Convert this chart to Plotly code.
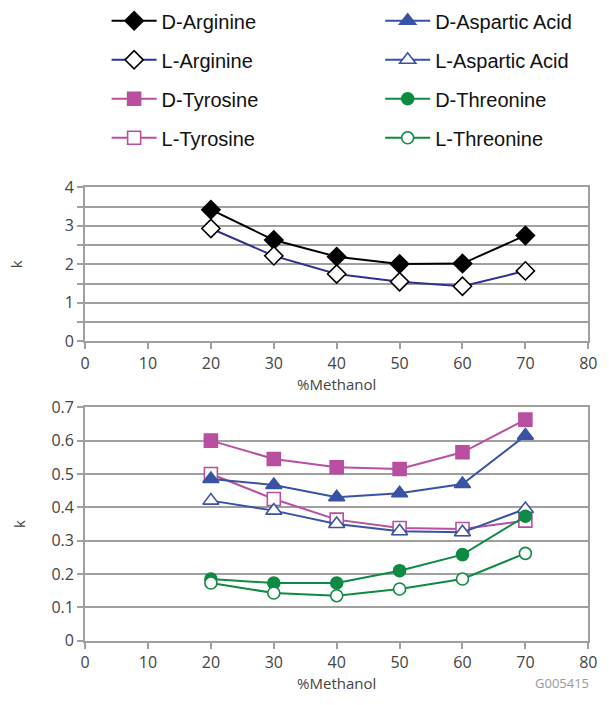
import plotly.graph_objects as go

methanol = [20, 30, 40, 50, 60, 70]

d_arginine = [3.42, 2.63, 2.20, 2.01, 2.02, 2.75]
l_arginine = [2.93, 2.22, 1.75, 1.55, 1.43, 1.83]

d_tyrosine = [0.600, 0.545, 0.520, 0.515, 0.565, 0.663]
l_tyrosine = [0.500, 0.425, 0.363, 0.338, 0.335, 0.360]
d_aspartic = [0.485, 0.467, 0.430, 0.442, 0.470, 0.615]
l_aspartic = [0.420, 0.390, 0.350, 0.328, 0.325, 0.395]
d_threonine = [0.185, 0.173, 0.173, 0.210, 0.258, 0.373]
l_threonine = [0.173, 0.143, 0.135, 0.155, 0.185, 0.262]

x_ticks = [0, 10, 20, 30, 40, 50, 60, 70, 80]
y2_tickvals = [0, 0.1, 0.2, 0.3, 0.4, 0.5, 0.6, 0.7]
y2_ticktext = ["0", "0.1", "0.2", "0.3", "0.4", "0.5", "0.6", "0.7"]

BLACK = "#000000"
NAVY = "#2e3192"
MAGENTA = "#b94fa0"
BLUE = "#3953a4"
GREEN = "#0f8a43"

fig = go.Figure()

def add(name, y, xa, ya, line_color, symbol, mcolor, mline, size, legend, group):
    fig.add_trace(go.Scatter(
        x=methanol, y=y, name=name, mode="lines+markers",
        xaxis=xa, yaxis=ya,
        line=dict(color=line_color, width=2),
        marker=dict(symbol=symbol, size=size, color=mcolor,
                    line=dict(color=mline, width=1.6)),
        legend=legend, legendgroup=group,
    ))

add("D-Arginine", d_arginine, "x", "y", BLACK, "diamond", BLACK, BLACK, 14, "legend", "a")
add("L-Arginine", l_arginine, "x", "y", NAVY, "diamond", "white", BLACK, 14, "legend", "b")
add("D-Tyrosine", d_tyrosine, "x2", "y2", MAGENTA, "square", MAGENTA, MAGENTA, 13, "legend", "c")
add("L-Tyrosine", l_tyrosine, "x2", "y2", MAGENTA, "square", "white", MAGENTA, 13, "legend", "d")
add("D-Aspartic Acid", d_aspartic, "x2", "y2", BLUE, "triangle-up", BLUE, BLUE, 14, "legend2", "e")
add("L-Aspartic Acid", l_aspartic, "x2", "y2", BLUE, "triangle-up", "white", BLUE, 14, "legend2", "f")
add("D-Threonine", d_threonine, "x2", "y2", GREEN, "circle", GREEN, GREEN, 12, "legend2", "g")
add("L-Threonine", l_threonine, "x2", "y2", GREEN, "circle", "white", GREEN, 12, "legend2", "h")

W, H = 609, 705
x0, x1 = 82 / W, 597 / W

GRID = "#a0a0a0"
tickfont = dict(family="Open Sans", size=16, color="#444444")
titlefont = dict(family="Open Sans", size=15, color="#444444")

xcommon = dict(range=[0, 80], tickvals=x_ticks, showgrid=False, showline=True,
               linecolor=GRID, linewidth=2, mirror=True, ticks="outside",
               ticklen=6, tickcolor=GRID, tickwidth=2, tickfont=tickfont,
               title=dict(text="%Methanol", font=titlefont, standoff=0),
               zeroline=False, domain=[x0, x1])

legfont = dict(family="Liberation Sans", size=20, color="#111111")

fig.update_layout(
    width=W, height=H,
    margin=dict(l=0, r=0, t=0, b=0),
    paper_bgcolor="white", plot_bgcolor="white",
    xaxis=dict(xcommon, anchor="y"),
    yaxis=dict(range=[0, 4], dtick=1, showgrid=True, gridcolor=GRID, gridwidth=2,
               minor=dict(dtick=0.5, showgrid=True, gridcolor=GRID, gridwidth=2,
                          ticks="outside", ticklen=6, tickcolor=GRID, tickwidth=2),
               showline=True, linecolor=GRID, linewidth=2, mirror=True,
               ticks="outside", ticklen=6, tickcolor=GRID, tickwidth=2,
               tickfont=tickfont, zeroline=False,
               title=dict(text="k", font=titlefont, standoff=38),
               domain=[(H - 341) / H, (H - 182) / H], anchor="x"),
    xaxis2=dict(xcommon, anchor="y2"),
    yaxis2=dict(range=[0, 0.7], tickvals=y2_tickvals, ticktext=y2_ticktext,
                showgrid=True, gridcolor=GRID, gridwidth=2,
                showline=True, linecolor=GRID, linewidth=2, mirror=True,
                ticks="outside", ticklen=6, tickcolor=GRID, tickwidth=2,
                tickfont=tickfont, zeroline=False,
                title=dict(text="k", font=titlefont, standoff=22),
                domain=[(H - 650) / H, (H - 409) / H], anchor="x2"),
    legend=dict(x=104 / W, y=1 + 10 / H, xanchor="left", yanchor="top",
                orientation="v", tracegroupgap=10, itemwidth=45,
                font=legfont, bgcolor="rgba(0,0,0,0)"),
    legend2=dict(x=384 / W, y=1 + 10 / H, xanchor="left", yanchor="top",
                 orientation="v", tracegroupgap=10, itemwidth=45,
                 font=legfont, bgcolor="rgba(0,0,0,0)"),
    showlegend=True,
)

fig.add_annotation(text="G005415", x=600 / W, y=0, xref="paper", yref="paper",
                   xanchor="right", yanchor="bottom", showarrow=False,
                   font=dict(family="Open Sans", size=13, color="#9a9a9a"))

fig.write_html("out.html")
